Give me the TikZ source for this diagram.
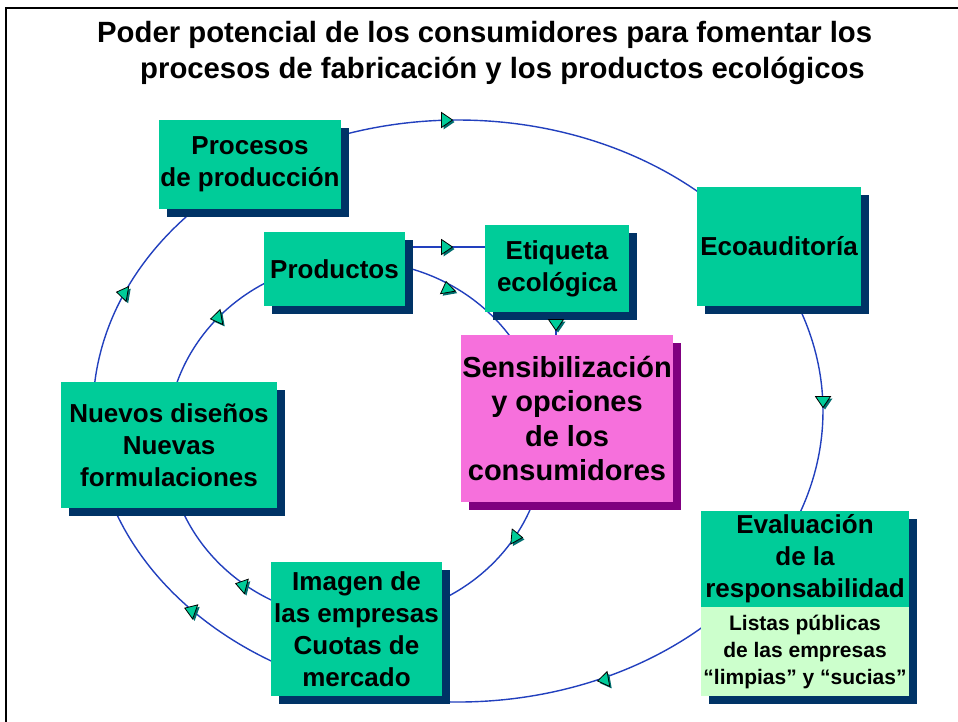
\documentclass[tikz,border=0pt]{standalone}
\usepackage{fontspec}
\setmainfont{Liberation Sans}
\usetikzlibrary{calc,shadows}
\definecolor{boxgreen}{RGB}{0,204,153}
\definecolor{navyshadow}{RGB}{0,51,102}
\definecolor{pinkbox}{RGB}{246,112,220}
\definecolor{purpleshadow}{RGB}{128,0,128}
\definecolor{lightgreen}{RGB}{204,255,204}
\definecolor{loopblue}{RGB}{34,64,190}
\definecolor{mkshadow}{RGB}{0,110,110}
\newcommand\bxfont{\fontsize{26}{32}\selectfont\bfseries}
\newcommand\sxfont{\fontsize{29}{34.5}\selectfont\bfseries}
\newcommand\lsfont{\fontsize{21}{27}\selectfont\bfseries}
\newcommand\ttlfont{\fontsize{29.3}{35}\selectfont\bfseries}
\pgfdeclarelayer{background}
\pgfsetlayers{background,main}
\tikzset{
  boxbase/.style={inner sep=0pt, align=center, font=\bxfont},
  box/.style={boxbase, fill=boxgreen, general shadow={fill=navyshadow, shadow xshift=8pt, shadow yshift=-8pt}},
  sensbox/.style={boxbase, fill=pinkbox, font=\sxfont, general shadow={fill=purpleshadow, shadow xshift=8pt, shadow yshift=-8pt}},
  loopline/.style={draw=loopblue, line width=1.4pt},
  arrowmark/.pic={
    \fill[mkshadow, shift={(2pt,-2pt)}, rotate=#1] (5.5pt,0pt) -- (-5.5pt,7.5pt) -- (-5.5pt,-7.5pt) -- cycle;
    \filldraw[fill=boxgreen, draw=black, line width=0.8pt, line join=miter, rotate=#1] (5.5pt,0pt) -- (-5.5pt,7.5pt) -- (-5.5pt,-7.5pt) -- cycle;
  }
}
\begin{document}
\begin{tikzpicture}[x=1pt,y=1pt]
\useasboundingbox (0,0) rectangle (958,-721);

% frame
\draw[line width=2.2pt, line cap=rect] (958,-8) -- (6,-8) -- (6,-721);

% title
\node[anchor=base west, inner sep=0pt, font=\ttlfont] (t1) at (97,-42) {Poder potencial de los consumidores para fomentar los};
\node[anchor=base west, inner sep=0pt, font=\ttlfont] (t2) at (140,-78) {procesos de fabricación y los productos ecológicos};

% boxes
\node[box, minimum width=182pt, minimum height=89pt] (proc) at (250,-164.5) {Procesos\\de producción};
\node[box, minimum width=141pt, minimum height=74pt] (prod) at (334.5,-269) {Productos};
\node[box, minimum width=144pt, minimum height=87pt] (etiq) at (557,-268.5) {Etiqueta\\ecológica};
\node[box, minimum width=164pt, minimum height=119pt] (eco) at (779,-246.5) {Ecoauditoría};
\node[sensbox, minimum width=212pt, minimum height=167pt] (sens) at (567,-418.5) {Sensibilización\\y opciones\\de los\\consumidores};
\node[box, minimum width=216pt, minimum height=126pt] (nuev) at (169,-445) {Nuevos diseños\\Nuevas\\formulaciones};
\node[box, minimum width=171pt, minimum height=134pt] (imag) at (356.5,-629) {Imagen de\\las empresas\\Cuotas de\\mercado};
\node[box, minimum width=208pt, minimum height=96pt] (eval) at (805,-559) {Evaluación\\de la\\responsabilidad};
\node[box, fill=lightgreen, font=\lsfont, minimum width=208pt, minimum height=89pt] (list) at (805,-651.5) {Listas públicas\\de las empresas\\“limpias” y “sucias”};

% connectors (behind the boxes)
\begin{pgfonlayer}{background}
\fill[white] (0,0) rectangle (958,-721);
\coordinate (oc) at (458,-411);
\coordinate (ic) at (356,-440);
% outer loop
\draw[loopline] ($(oc)+(123.9:365pt and 291pt)$) arc[start angle=123.9, end angle=32.7, x radius=365pt, y radius=291pt];
\draw[loopline] ($(oc)+(32.7:365pt and 291pt)$) arc[start angle=32.7, end angle=-34.8, x radius=365pt, y radius=291pt];
\draw[loopline] ($(oc)+(-34.8:365pt and 291pt)$) arc[start angle=-34.8, end angle=-110.4, x radius=365pt, y radius=291pt];
\draw[loopline] ($(oc)+(-110.4:365pt and 291pt)$) arc[start angle=-110.4, end angle=-171.6, x radius=365pt, y radius=291pt];
\draw[loopline] ($(oc)+(-171.6:365pt and 291pt)$) arc[start angle=-171.6, end angle=-236.1, x radius=365pt, y radius=291pt];
% inner loop
\draw[loopline] ($(ic)+(96.8:189pt and 179pt)$) arc[start angle=96.8, end angle=6.2, x radius=189pt, y radius=179pt];
\draw[loopline] ($(ic)+(6.2:189pt and 179pt)$) arc[start angle=6.2, end angle=-90, x radius=189pt, y radius=179pt];
\draw[loopline] ($(ic)+(-90:189pt and 179pt)$) arc[start angle=-90, end angle=-178.4, x radius=189pt, y radius=179pt];
\draw[loopline] ($(ic)+(-178.4:189pt and 179pt)$) arc[start angle=-178.4, end angle=-263.2, x radius=189pt, y radius=179pt];
% straight connectors
\draw[loopline] ([yshift=22pt]prod.east) -- ([yshift=21.5pt]etiq.west);
\draw[loopline] ([xshift=-1pt]etiq.south) -- ([xshift=-1pt]etiq.south |- sens.north);
\end{pgfonlayer}

% arrowheads
\pic at (447,-120) {arrowmark=0};
\pic at (447,-247) {arrowmark=0};
\pic at (447,-287) {arrowmark=100};
\pic at (556,-325) {arrowmark=-90};
\pic at (823,-402) {arrowmark=-90};
\pic at (603,-680) {arrowmark=190};
\pic at (190,-610) {arrowmark=160};
\pic at (122,-293) {arrowmark=170};
\pic at (216,-318) {arrowmark=190};
\pic at (241,-585) {arrowmark=165};
\pic at (517,-537) {arrowmark=-5};
\end{tikzpicture}
\end{document}
